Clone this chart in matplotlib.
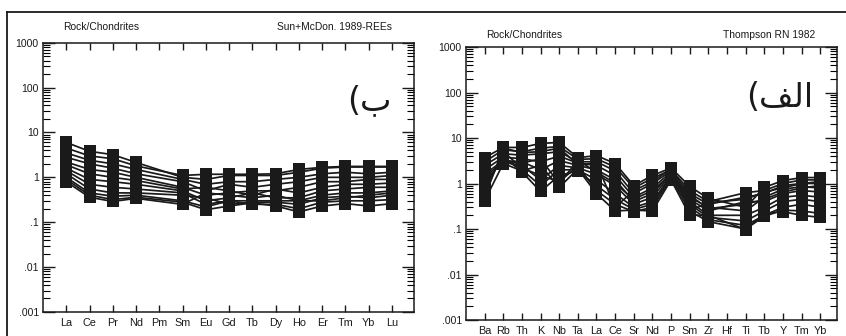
import matplotlib
matplotlib.use('Agg')
import matplotlib.pyplot as plt
from matplotlib.lines import Line2D
import numpy as np

plt.rcParams['font.family'] = ['Liberation Sans', 'DejaVu Sans']

# REE diagram (left), Pm not analysed
ree_labels = ['La', 'Ce', 'Pr', 'Nd', 'Pm', 'Sm', 'Eu', 'Gd', 'Tb', 'Dy', 'Ho', 'Er', 'Tm', 'Yb', 'Lu']
ree_used = ['La', 'Ce', 'Pr', 'Nd', 'Sm', 'Eu', 'Gd', 'Tb', 'Dy', 'Ho', 'Er', 'Tm', 'Yb', 'Lu']
ree_samples = [
    [6.0, 3.8, 3.2, 2.15, 1.0, 0.9, 1.1, 1.1, 1.1, 1.3, 1.6, 1.7, 1.7, 1.7],
    [4.5, 3.0, 2.6, 1.8, 1.1, 1.17, 1.17, 1.17, 1.2, 1.5, 1.67, 1.75, 1.75, 1.75],
    [3.5, 2.4, 2.0, 1.5, 0.9, 0.7, 0.8, 0.8, 0.9, 1.0, 1.2, 1.3, 1.2, 1.3],
    [2.8, 2.0, 1.6, 1.2, 0.8, 0.5, 0.7, 0.6, 0.7, 0.8, 1.0, 1.0, 1.0, 1.1],
    [2.2, 1.5, 1.3, 1.0, 0.6, 0.4, 0.45, 0.5, 0.5, 0.6, 0.8, 0.8, 0.9, 0.9],
    [1.9, 1.2, 1.0, 0.85, 0.55, 0.6, 0.5, 0.4, 0.55, 0.45, 0.6, 0.7, 0.7, 0.75],
    [1.6, 0.9, 0.8, 0.7, 0.5, 0.3, 0.35, 0.45, 0.35, 0.35, 0.5, 0.55, 0.6, 0.6],
    [1.4, 0.7, 0.6, 0.55, 0.45, 0.25, 0.3, 0.3, 0.3, 0.3, 0.4, 0.45, 0.45, 0.5],
    [1.2, 0.55, 0.45, 0.45, 0.4, 0.35, 0.25, 0.28, 0.28, 0.25, 0.35, 0.38, 0.35, 0.4],
    [1.0, 0.45, 0.38, 0.4, 0.3, 0.22, 0.3, 0.25, 0.25, 0.2, 0.28, 0.3, 0.3, 0.32],
    [0.9, 0.4, 0.32, 0.36, 0.28, 0.19, 0.23, 0.27, 0.23, 0.17, 0.23, 0.26, 0.23, 0.26],
    [0.8, 0.36, 0.29, 0.34, 0.25, 0.45, 0.4, 0.35, 0.4, 0.3, 0.3, 0.35, 0.4, 0.45],
]

# spider diagram (right), Hf not analysed
spider_labels = ['Ba', 'Rb', 'Th', 'K', 'Nb', 'Ta', 'La', 'Ce', 'Sr', 'Nd', 'P', 'Sm', 'Zr', 'Hf', 'Ti', 'Tb', 'Y', 'Tm', 'Yb']
spider_used = ['Ba', 'Rb', 'Th', 'K', 'Nb', 'Ta', 'La', 'Ce', 'Sr', 'Nd', 'P', 'Sm', 'Zr', 'Ti', 'Tb', 'Y', 'Tm', 'Yb']
spider_samples = [
    [3.7, 6.2, 6.2, 7.6, 8.0, 3.7, 4.1, 2.75, 0.9, 1.5, 2.2, 0.86, 0.47, 0.3, 0.82, 1.16, 1.35, 1.35],
    [3.0, 5.5, 5.0, 6.0, 6.5, 3.4, 3.5, 2.3, 0.8, 1.3, 2.0, 0.7, 0.4, 0.63, 0.7, 1.0, 1.2, 1.2],
    [2.5, 4.5, 4.2, 4.5, 5.0, 3.0, 3.0, 1.9, 0.6, 1.0, 1.9, 0.6, 0.35, 0.5, 0.6, 0.9, 1.0, 1.0],
    [2.0, 3.8, 3.5, 3.0, 4.0, 2.8, 2.5, 1.5, 0.5, 0.8, 1.8, 0.5, 0.3, 0.25, 0.5, 0.75, 0.85, 0.8],
    [1.6, 3.2, 3.0, 2.0, 3.2, 2.5, 2.0, 1.2, 0.4, 0.6, 1.7, 0.45, 0.25, 0.4, 0.4, 0.6, 0.7, 0.65],
    [1.2, 2.9, 2.5, 1.2, 2.5, 2.2, 1.6, 0.9, 0.35, 0.5, 1.6, 0.4, 0.2, 0.2, 0.3, 0.5, 0.55, 0.5],
    [1.0, 3.5, 2.0, 0.9, 2.0, 2.0, 1.2, 0.6, 0.3, 0.4, 1.5, 0.35, 0.18, 0.15, 0.25, 0.4, 0.45, 0.4],
    [0.8, 4.0, 1.8, 0.67, 1.5, 1.9, 0.9, 0.45, 0.27, 0.35, 1.4, 0.3, 0.16, 0.12, 0.2, 0.3, 0.35, 0.3],
    [0.6, 5.0, 2.2, 1.5, 1.1, 2.4, 0.7, 0.35, 0.24, 0.3, 1.3, 0.25, 0.145, 0.1, 0.19, 0.26, 0.25, 0.22],
    [0.42, 2.75, 1.9, 2.5, 0.82, 2.1, 0.6, 0.25, 0.26, 0.25, 1.2, 0.2, 0.2, 0.097, 0.22, 0.24, 0.2, 0.18],
    [1.4, 3.0, 2.8, 3.5, 1.0, 3.2, 1.8, 1.0, 0.45, 0.7, 1.6, 0.55, 0.28, 0.35, 0.45, 0.65, 0.8, 0.9],
    [0.5, 6.0, 4.8, 5.0, 6.0, 2.6, 2.8, 0.3, 0.7, 1.1, 2.1, 0.25, 0.38, 0.45, 0.65, 0.8, 1.0, 1.1],
]

y_ticks = [0.001, 0.01, 0.1, 1, 10, 100, 1000]
y_tick_labels = ['.001', '.01', '.1', '1', '10', '100', '1000']

INK = '#1a1a1a'


def plot_panel(ax, labels, used, samples, left_note, right_note, tag, xmax, note_y, tag_pos):
    x_pos = [labels.index(e) for e in used]
    for s in samples:
        ax.plot(x_pos, s, color=INK, lw=1.25, marker='s', ms=8.0, mfc=INK, mec=INK, mew=0)
    ax.set_yscale('log')
    ax.set_ylim(0.001, 1000)
    ax.set_xlim(-1, xmax)
    ax.set_yticks(y_ticks)
    ax.set_yticklabels(y_tick_labels)
    ax.set_xticks(np.arange(len(labels)))
    ax.set_xticklabels(labels)
    ax.tick_params(axis='y', which='major', direction='in', length=8.5, width=1.0,
                   left=True, right=True, labelsize=7.5, pad=3, colors=INK)
    ax.tick_params(axis='y', which='minor', direction='in', length=5, width=0.8,
                   left=True, right=True)
    ax.tick_params(axis='x', which='major', direction='in', length=5, width=1.0,
                   top=True, bottom=True, labelsize=7.8, pad=4, colors=INK)
    for sp in ax.spines.values():
        sp.set_linewidth(1.1)
        sp.set_color(INK)
    ax.text(0.055, note_y, left_note, transform=ax.transAxes, fontsize=7.4, color=INK, va='center')
    ax.text(0.94, note_y, right_note, transform=ax.transAxes, fontsize=7.4, color=INK,
            va='center', ha='right')
    ax.text(tag_pos[0], tag_pos[1], tag, transform=ax.transAxes, fontsize=24,
            family=['DejaVu Sans'], color=INK, ha='right', va='center')


fig = plt.figure(figsize=(8.46, 3.36), dpi=100)
ax_l = fig.add_axes([0.0508, 0.0714, 0.4386, 0.8016])
ax_r = fig.add_axes([0.5508, 0.0476, 0.4386, 0.8125])

# arabic labels in visual (left-to-right) presentation forms
tag_b = '(\ufe8f'
tag_alef = '(\ufed2\ufedf\ufe8d'

plot_panel(ax_l, ree_labels, ree_used, ree_samples, 'Rock/Chondrites', 'Sun+McDon. 1989-REEs',
           tag_b, 14.95, 1.058, (0.94, 0.785))
plot_panel(ax_r, spider_labels, spider_used, spider_samples, 'Rock/Chondrites', 'Thompson RN 1982',
           tag_alef, 18.9, 1.045, (0.935, 0.815))

# outer frame lines
fig.add_artist(Line2D([0.0077, 0.0077], [0.0, 0.964], transform=fig.transFigure, color=INK, lw=1.3))
fig.add_artist(Line2D([0.0077, 1.0], [0.964, 0.964], transform=fig.transFigure, color=INK, lw=1.3))

fig.savefig('out.png', dpi=100)
